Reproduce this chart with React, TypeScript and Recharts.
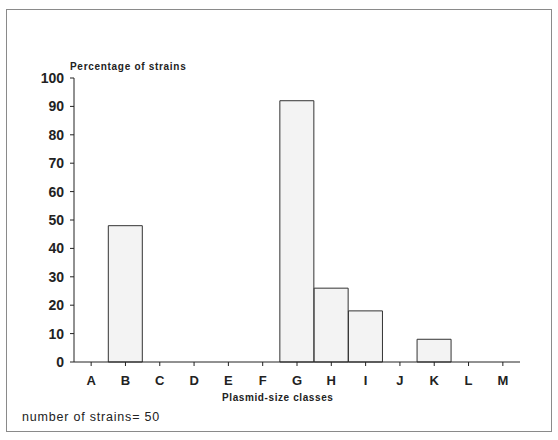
import { BarChart, Bar, XAxis, YAxis } from 'recharts';

const classes = ['A', 'B', 'C', 'D', 'E', 'F', 'G', 'H', 'I', 'J', 'K', 'L', 'M'];
const percentages = [0, 48, 0, 0, 0, 0, 92, 26, 18, 0, 8, 0, 0];
const yTicks = [0, 10, 20, 30, 40, 50, 60, 70, 80, 90, 100];

const data = classes.map((c, i) => ({ name: c, value: percentages[i] }));

const font = '"Liberation Sans", Arial, sans-serif';
const ink = '#222';

export default function App() {
  return (
    <div style={{ position: 'absolute', left: 0, top: 0, width: 558, height: 440, background: '#fff', fontFamily: font }}>
      <div
        style={{
          position: 'absolute',
          left: 6,
          top: 9,
          width: 546,
          height: 423,
          border: '1px solid #8a8a8a',
          boxSizing: 'border-box',
        }}
      />
      <BarChart
        width={558}
        height={440}
        data={data}
        margin={{ top: 78, right: 38, bottom: 52, left: 14 }}
        barCategoryGap={0}
        style={{ position: 'absolute', left: 0, top: 0 }}
      >
        <XAxis
          dataKey="name"
          axisLine={{ stroke: ink }}
          tickLine={{ stroke: ink }}
          tickSize={4}
          tickMargin={10}
          height={26}
          tick={{ fill: ink, fontSize: 13, fontWeight: 'bold', fontFamily: font }}
        />
        <XAxis xAxisId="top" dataKey="name" orientation="top" height={0} tick={false} tickLine={false} axisLine={{ stroke: ink }} />
        <YAxis
          domain={[0, 100]}
          ticks={yTicks}
          interval={0}
          axisLine={{ stroke: ink }}
          tickLine={{ stroke: ink }}
          tickSize={4}
          tickMargin={6}
          width={60}
          tick={{ fill: ink, fontSize: 14, fontWeight: 'bold', fontFamily: font }}
        />
        <YAxis yAxisId="right" orientation="right" width={0} domain={[0, 100]} tick={false} tickLine={false} axisLine={{ stroke: ink }} />
        <Bar dataKey="value" fill="#f3f3f3" stroke="#333" strokeWidth={1} isAnimationActive={false} />
      </BarChart>
      <div style={{ position: 'absolute', left: 70, top: 61, fontSize: 10, fontWeight: 'bold', color: ink, letterSpacing: 0.7 }}>
        Percentage of strains
      </div>
      <div style={{ position: 'absolute', left: 222, top: 392, fontSize: 10, fontWeight: 'bold', color: ink, letterSpacing: 0.6 }}>
        Plasmid-size classes
      </div>
      <div style={{ position: 'absolute', left: 22, top: 410, fontSize: 12.5, color: ink, letterSpacing: 0.8 }}>
        number of strains= 50
      </div>
    </div>
  );
}
